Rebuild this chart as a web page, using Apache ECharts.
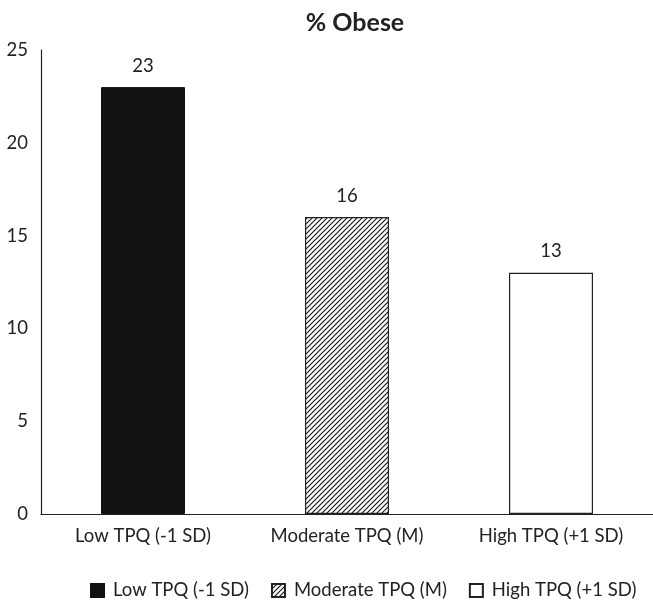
<!DOCTYPE html>
<html>
<head>
<meta charset="utf-8">
<script src="https://cdn.jsdelivr.net/npm/echarts@6/dist/echarts.min.js"></script>
<style>
  html, body { margin: 0; padding: 0; background: #fff; }
  #chart { width: 653px; height: 601px; }
</style>
</head>
<body>
<div id="chart"></div>
<script>
// Share of obese participants by TPQ level
const categories = ['Low TPQ (-1 SD)', 'Moderate TPQ (M)', 'High TPQ (+1 SD)'];
const obesePct = [23, 16, 13];
const yTicks = [0, 5, 10, 15, 20, 25];

const FONT = 'Lato, "Open Sans", sans-serif';
const TEXT = '#222';
const FS = 18.5;

// Diagonal hatch tile for the middle bar
function hatchPattern() {
  const s = 5;
  const c = document.createElement('canvas');
  c.width = s; c.height = s;
  const g = c.getContext('2d');
  g.fillStyle = '#fff';
  g.fillRect(0, 0, s, s);
  g.strokeStyle = '#111';
  g.lineWidth = 1.1;
  g.beginPath();
  g.moveTo(0, s); g.lineTo(s, 0);
  g.moveTo(-1, 1); g.lineTo(1, -1);
  g.moveTo(s - 1, s + 1); g.lineTo(s + 1, s - 1);
  g.stroke();
  return { image: c, repeat: 'repeat' };
}

const fills = [
  { color: '#111', borderColor: '#111', borderWidth: 1 },
  { color: hatchPattern(), borderColor: '#222', borderWidth: 1.2 },
  { color: '#fff', borderColor: '#222', borderWidth: 1.2 }
];

const series = categories.map((name, i) => ({
  name: name,
  type: 'bar',
  barWidth: 84,
  barGap: '-100%',
  data: obesePct.map((v, j) => (j === i ? v : '-')),
  itemStyle: fills[i],
  label: {
    show: true,
    position: 'top',
    distance: 12,
    color: TEXT,
    fontFamily: FONT,
    fontSize: FS
  },
  emphasis: { disabled: true },
  animation: false
}));

const chart = echarts.init(document.getElementById('chart'));
chart.setOption({
  backgroundColor: '#fff',
  animation: false,
  title: {
    text: '% Obese',
    left: 350,
    top: 5,
    textAlign: 'center',
    textStyle: { fontFamily: FONT, fontWeight: 'bold', fontSize: 25, color: TEXT }
  },
  legend: {
    data: categories,
    top: 576,
    left: 85,
    itemWidth: 13,
    itemHeight: 13,
    itemGap: 22,
    icon: 'rect',
    textStyle: { fontFamily: FONT, fontSize: FS, color: TEXT, padding: [0, 0, 0, 4] }
  },
  grid: { left: 41, right: -8, top: 50, bottom: 87 },
  xAxis: {
    type: 'category',
    data: categories,
    axisLine: { show: true, lineStyle: { color: '#222', width: 1.2 } },
    axisTick: { show: false },
    axisLabel: { margin: 13, color: TEXT, fontFamily: FONT, fontSize: FS }
  },
  yAxis: {
    type: 'value',
    min: yTicks[0],
    max: yTicks[yTicks.length - 1],
    interval: yTicks[1] - yTicks[0],
    axisLine: { show: true, lineStyle: { color: '#222', width: 1.2 } },
    axisTick: { show: false },
    splitLine: { show: false },
    axisLabel: { margin: 13, color: TEXT, fontFamily: FONT, fontSize: FS }
  },
  series: series
});
</script>
</body>
</html>
